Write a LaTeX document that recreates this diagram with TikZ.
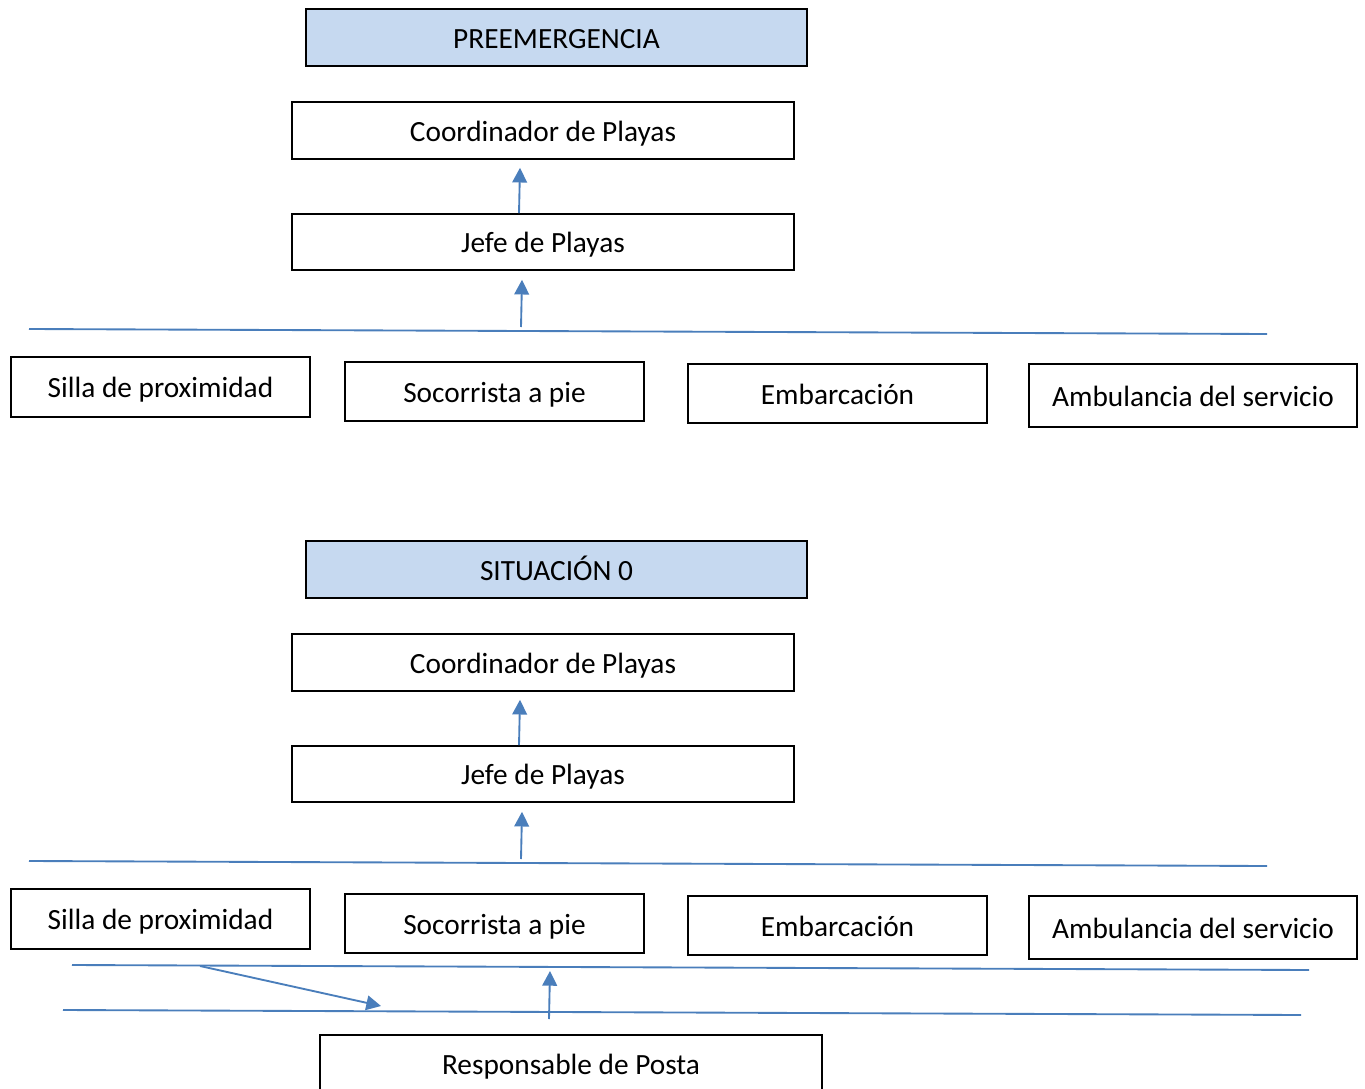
\documentclass[tikz,border=0pt]{standalone}
\usepackage{fontspec}
\setmainfont{Carlito}
\usetikzlibrary{calc,arrows.meta}
\definecolor{wordblue}{RGB}{74,126,187}
\definecolor{headfill}{RGB}{198,217,240}
\tikzset{
	box/.style={draw, line width=1.2pt, inner sep=0pt, text height=18pt, text depth=1.8pt, font=\fontsize{22}{26}\selectfont},
	headbox/.style={box, fill=headfill},
	link/.style={draw=wordblue, line width=1.4pt, -{Triangle[width=11pt,length=11pt]}},
	rule/.style={draw=wordblue, line width=1.4pt},
	size/.style 2 args={minimum width={#1*0.75pt}, minimum height={#2*0.75pt}}
}

\begin{document}
\begin{tikzpicture}[x=0.75pt, y=-0.75pt]
			%%%%% START %%%%%
			\clip (0, 0) rectangle (1365, 1089);
			
			% preemergencia
			\node[headbox, size={501}{57}] (head1) at (556.5, 37.5) {PREEMERGENCIA};
			\node[box, size={502}{57}] (coord1) at (543, 130.5) {Coordinador de Playas};
			\node[box, size={502}{56}] (jefe1) at (543, 242) {Jefe de Playas};
			
			\coordinate (l1a) at (29, 329);
			\coordinate (l1b) at (1267, 334);
			\draw[rule] (l1a) -- (l1b);
			\coordinate (b1) at (521, 327);
			
			\draw[link] ($(jefe1.north)+(-24, 0)$) -- ($(coord1.south)+(-23, 8)$);
			\draw[link] (b1) -- ($(jefe1.south)+(-21, 9)$);
			
			\node[box, size={299}{60}] (silla1) at (160.5, 387) {Silla de proximidad};
			\node[box, size={299}{59}] (soco1) at (494.5, 391.5) {Socorrista a pie};
			\node[box, size={299}{59}] (emba1) at (837.5, 393.5) {Embarcación};
			\node[box, size={328}{63}] (ambu1) at (1193, 395.5) {Ambulancia del servicio};
			
			% situacion 0
			\node[headbox, size={501}{57}] (head2) at (556.5, 569.5) {SITUACIÓN 0};
			\node[box, size={502}{57}] (coord2) at (543, 662.5) {Coordinador de Playas};
			\node[box, size={502}{56}] (jefe2) at (543, 774) {Jefe de Playas};
			
			\coordinate (l2a) at (29, 861);
			\coordinate (l2b) at (1267, 866);
			\draw[rule] (l2a) -- (l2b);
			\coordinate (b2) at (521, 859);
			
			\draw[link] ($(jefe2.north)+(-24, 0)$) -- ($(coord2.south)+(-23, 8)$);
			\draw[link] (b2) -- ($(jefe2.south)+(-21, 9)$);
			
			\node[box, size={299}{60}] (silla2) at (160.5, 919) {Silla de proximidad};
			\node[box, size={299}{59}] (soco2) at (494.5, 923.5) {Socorrista a pie};
			\node[box, size={299}{59}] (emba2) at (837.5, 925.5) {Embarcación};
			\node[box, size={328}{63}] (ambu2) at (1193, 927.5) {Ambulancia del servicio};
			
			\coordinate (l3a) at (72, 965);
			\coordinate (l3b) at (1309, 970);
			\draw[rule] (l3a) -- (l3b);
			\coordinate (l4a) at (63, 1010);
			\coordinate (l4b) at (1301, 1015);
			\draw[rule] (l4a) -- (l4b);
			
			\coordinate (d1) at (200, 966);
			\coordinate (d2) at (381, 1006);
			\draw[link] (d1) -- (d2);
			
			\node[box, size={502}{58}] (resp) at (571, 1064) {Responsable de Posta};
			\coordinate (b3) at (549, 1019);
			\coordinate (b4) at (550, 971);
			\draw[link] (b3) -- (b4);
			
			%%%%% END %%%%%
		\end{tikzpicture}
\end{document}
